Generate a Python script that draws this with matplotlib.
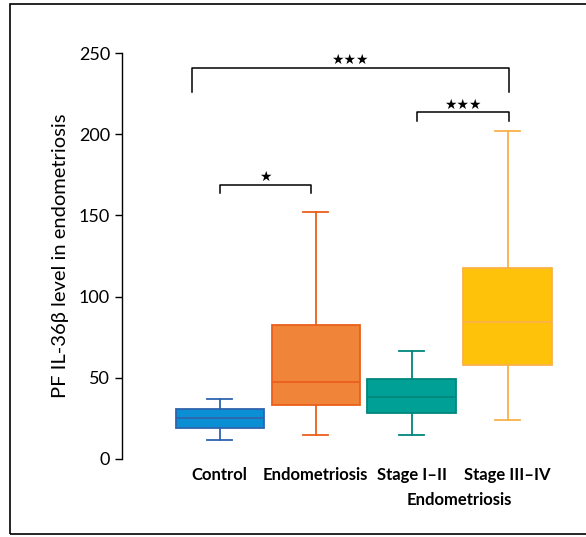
import matplotlib.pyplot as plt
from matplotlib.patches import Rectangle

# --- group summaries (PF IL-36beta level) ---
groups = ["Control", "Endometriosis", "Stage I\u2013II", "Stage III\u2013IV"]
whis_lo = [11.5, 15.0, 15.0, 24.0]
q1 = [19.0, 33.5, 28.5, 58.0]
median = [25.0, 47.5, 38.0, 84.5]
q3 = [31.0, 82.5, 49.0, 117.5]
whis_hi = [37.0, 152.0, 66.5, 202.0]

fills = ["#0a8fd4", "#f0853a", "#00a096", "#ffc20a"]
edges = ["#2f64ad", "#ea5f1a", "#00877d", "#f9b24a"]

# significance brackets: (left x, right x, height, drop, stars)
brackets = [
    (-0.29, 3.01, 241.0, 15.0, "\u2605\u2605\u2605"),
    (2.06, 3.01, 213.5, 5.5, "\u2605\u2605\u2605"),
    (0.0, 0.95, 169.0, 5.5, "\u2605"),
]

plt.rcParams["font.family"] = ["Lato", "DejaVu Sans"]

fig = plt.figure(figsize=(5.86, 5.37), dpi=100)
ax = fig.add_axes([0.208, 0.1453, 0.74, 0.756])

stats = []
for i, g in enumerate(groups):
    stats.append(dict(label=g, whislo=whis_lo[i], q1=q1[i], med=median[i],
                      q3=q3[i], whishi=whis_hi[i], fliers=[]))

pos = list(range(len(groups)))
bp = ax.bxp(stats, positions=pos, widths=0.92, patch_artist=True,
            showfliers=False, capwidths=0.26)
for i in range(len(groups)):
    bp["boxes"][i].set(facecolor=fills[i], edgecolor=edges[i], linewidth=1.3)
    bp["medians"][i].set(color=edges[i], linewidth=1.3)
    for k in (2 * i, 2 * i + 1):
        bp["whiskers"][k].set(color=edges[i], linewidth=1.3)
        bp["caps"][k].set(color=edges[i], linewidth=1.3)

for x0, x1, y, drop, stars in brackets:
    ax.plot([x0, x0, x1, x1], [y - drop, y, y, y - drop], color="black",
            linewidth=1.1, solid_joinstyle="round", clip_on=False)
    ax.text((x0 + x1) / 2, y + 0.5, stars, ha="center", va="bottom",
            fontsize=10, family="DejaVu Sans")

ax.set_ylim(0, 250)
ax.set_xlim(-1.02, 3.5)
ax.set_yticks([0, 50, 100, 150, 200, 250])
ax.tick_params(axis="y", labelsize=13, length=5, width=1)
ax.set_xticks([])
for s in ("top", "right", "bottom"):
    ax.spines[s].set_visible(False)
ax.spines["left"].set_linewidth(1)
ax.set_ylabel("PF IL-36\u03b2 level in endometriosis", fontsize=14.5, labelpad=7)

for i, g in enumerate(groups):
    ax.text(i, -5, g, ha="center", va="top", fontsize=12, fontweight="bold")
ax.text(2.5, -20.5, "Endometriosis", ha="center", va="top", fontsize=12,
        fontweight="bold")

fig.patches.append(Rectangle((10 / 586, 3 / 537), 1.0, 530 / 537,
                             transform=fig.transFigure, fill=False,
                             edgecolor="black", linewidth=1.2))

fig.savefig("out.png", dpi=100)
